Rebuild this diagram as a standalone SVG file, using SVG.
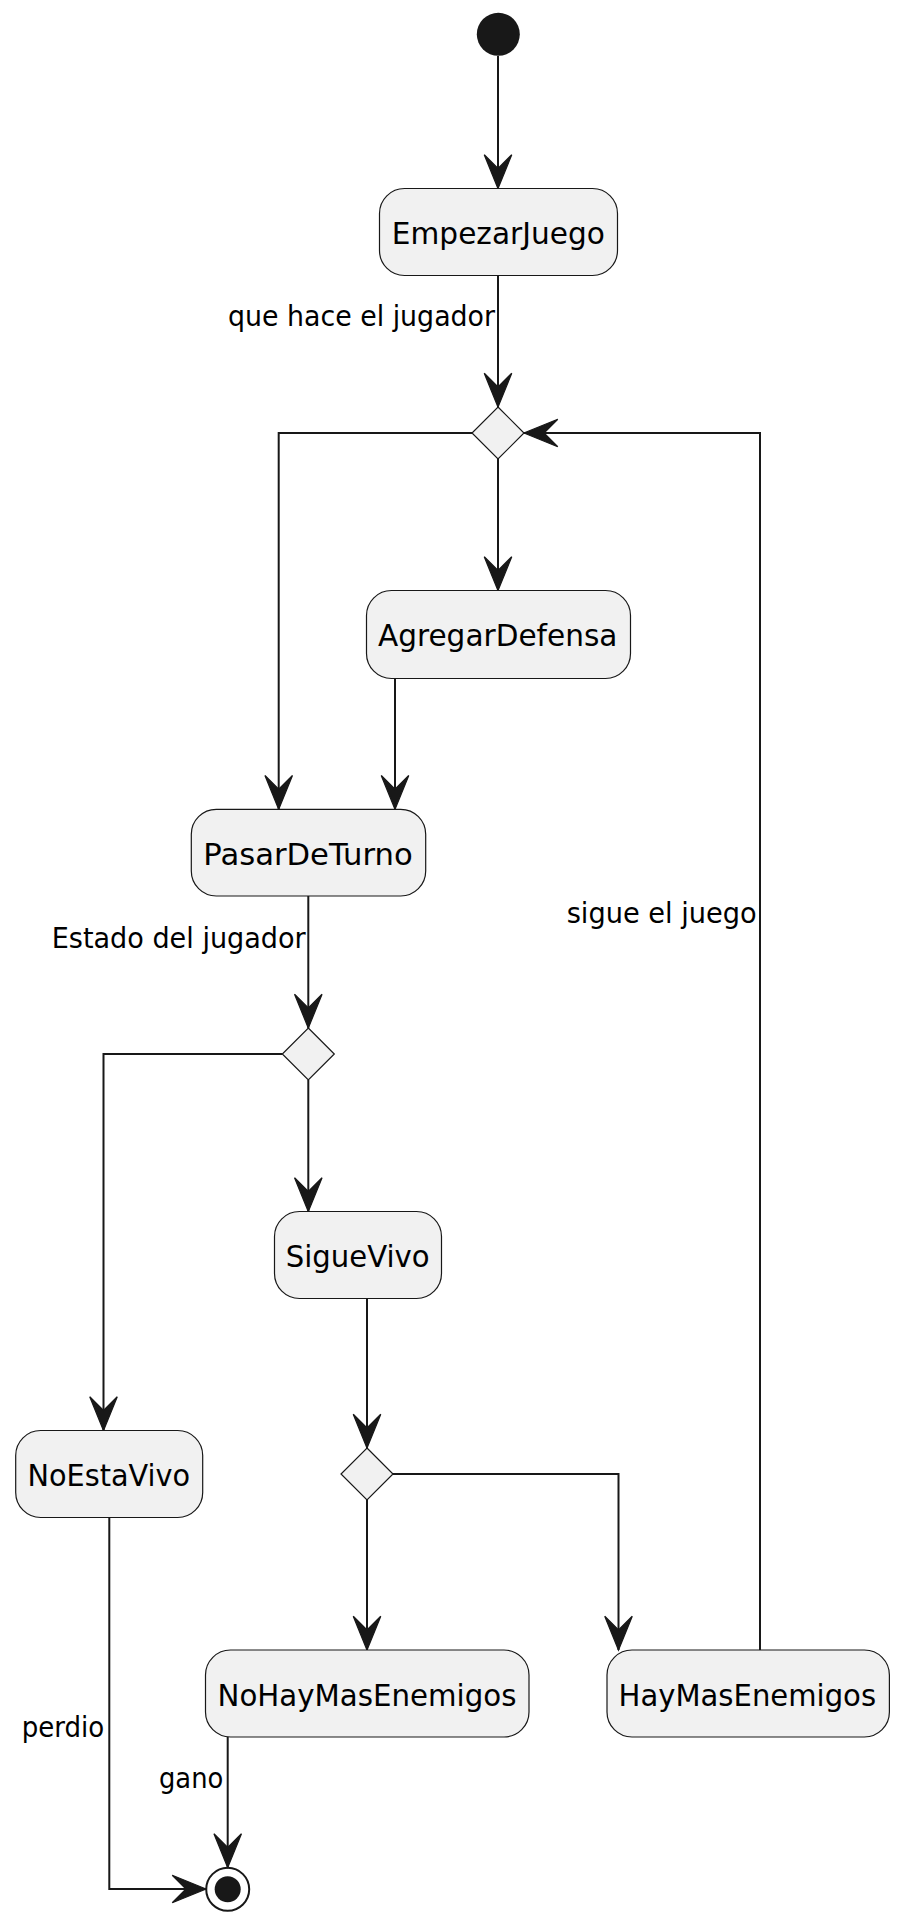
<svg xmlns="http://www.w3.org/2000/svg" width="900" height="1922" viewBox="0 0 900 1922">
<defs>
<style>
.node rect{fill:#F1F1F1;stroke:#181818;stroke-width:1.2}
.node polygon{fill:#F1F1F1;stroke:#181818;stroke-width:1.2}
.nt{font-family:"DejaVu Sans",sans-serif;font-size:30px;fill:#000;text-anchor:middle}
.lbl{font-family:"DejaVu Sans",sans-serif;font-size:27.5px;fill:#000;text-anchor:end}
.edge path{fill:none;stroke:#181818;stroke-width:2;marker-end:url(#arr)}
</style>
<marker id="arr" markerUnits="userSpaceOnUse" orient="auto" refX="0" refY="0" markerWidth="40" markerHeight="40" viewBox="-30 -15 32 30" overflow="visible">
<path d="M0,0 L-27,-11 L-16,0 L-27,11 Z" fill="#181818" stroke="#181818" stroke-width="1"/>
</marker>
</defs>
<rect width="900" height="1922" fill="#FFFFFF"/>
<g id="connectors" class="edge">
<path d="M498,56 V188.5"/>
<path d="M498,275.5 V407"/>
<path d="M498,459 V590.5"/>
<path d="M472,433 H278.7 V809.3"/>
<path d="M395,678.5 V809.3"/>
<path d="M308.3,896 V1028"/>
<path d="M308.3,1080 V1211.5"/>
<path d="M282.3,1054 H103.5 V1430.5"/>
<path d="M367,1298.5 V1448"/>
<path d="M367,1500 V1650"/>
<path d="M393,1474 H618.5 V1650"/>
<path d="M760,1650 V433 H524"/>
<path d="M227.7,1737 V1867.5"/>
<path d="M109.3,1517.5 V1889 H206"/>
<text class="lbl" x="495" y="326" textLength="267" lengthAdjust="spacingAndGlyphs">que hace el jugador</text>
<text class="lbl" x="305.7" y="948" textLength="254" lengthAdjust="spacingAndGlyphs">Estado del jugador</text>
<text class="lbl" x="756.7" y="922.7" textLength="190" lengthAdjust="spacingAndGlyphs">sigue el juego</text>
<text class="lbl" x="104.3" y="1736.5" textLength="82.6" lengthAdjust="spacingAndGlyphs">perdio</text>
<text class="lbl" x="223.3" y="1788" textLength="64.3" lengthAdjust="spacingAndGlyphs">gano</text>
</g>
<g id="start"><circle cx="498.3" cy="34.3" r="21.5" fill="#181818"/></g>
<g id="EmpezarJuego" class="node"><rect x="379.5" y="188.5" width="238" height="87" rx="25" ry="25"/><text class="nt" x="498.3" y="243.5" textLength="213" lengthAdjust="spacingAndGlyphs">EmpezarJuego</text></g>
<g id="decision1" class="node"><polygon points="498,407 524,433 498,459 472,433"/></g>
<g id="AgregarDefensa" class="node"><rect x="366.5" y="590.5" width="264" height="88" rx="25" ry="25"/><text class="nt" x="497.7" y="645.5" textLength="239.5" lengthAdjust="spacingAndGlyphs">AgregarDefensa</text></g>
<g id="PasarDeTurno" class="node"><rect x="191.3" y="809.3" width="234.4" height="86.7" rx="25" ry="25"/><text class="nt" x="308" y="864.5" textLength="209.4" lengthAdjust="spacingAndGlyphs">PasarDeTurno</text></g>
<g id="decision2" class="node"><polygon points="308.3,1028 334.3,1054 308.3,1080 282.3,1054"/></g>
<g id="SigueVivo" class="node"><rect x="274.5" y="1211.5" width="167" height="87" rx="25" ry="25"/><text class="nt" x="357.7" y="1266.5" textLength="143.9" lengthAdjust="spacingAndGlyphs">SigueVivo</text></g>
<g id="NoEstaVivo" class="node"><rect x="15.7" y="1430.5" width="187" height="87" rx="25" ry="25"/><text class="nt" x="108.8" y="1485.5" textLength="162.5" lengthAdjust="spacingAndGlyphs">NoEstaVivo</text></g>
<g id="decision3" class="node"><polygon points="367,1448 393,1474 367,1500 341,1474"/></g>
<g id="NoHayMasEnemigos" class="node"><rect x="205.5" y="1650" width="323.5" height="87" rx="25" ry="25"/><text class="nt" x="367" y="1705.5" textLength="299" lengthAdjust="spacingAndGlyphs">NoHayMasEnemigos</text></g>
<g id="HayMasEnemigos" class="node"><rect x="607" y="1650" width="282.4" height="87" rx="25" ry="25"/><text class="nt" x="747.3" y="1705.5" textLength="257.5" lengthAdjust="spacingAndGlyphs">HayMasEnemigos</text></g>
<g id="end"><circle cx="227.7" cy="1889.3" r="21.5" fill="none" stroke="#181818" stroke-width="2"/><circle cx="227.7" cy="1889.3" r="13" fill="#181818"/></g>
</svg>
